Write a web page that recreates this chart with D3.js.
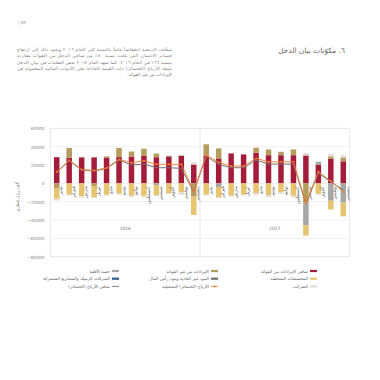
<!DOCTYPE html>
<html lang="ar">
<head>
<meta charset="UTF-8">
<title>مكوّنات بيان الدخل</title>
<script src="https://d3js.org/d3.v7.min.js"></script>
<style>
  body { margin: 0; background: #fff; }
  svg { display: block; font-family: "DejaVu Sans", sans-serif; }
</style>
</head>
<body>
<svg id="chart" width="380" height="380"></svg>
<script>
// months (Arabic), two years of monthly data
const months = ["يناير", "فبراير", "مارس", "أبريل", "مايو", "يونيو", "يوليو", "أغسطس", "سبتمبر", "أكتوبر", "نوفمبر", "ديسمبر"];
const years = ["2016", "2017"];
const yTicks = [60000, 40000, 20000, 0, -20000, -40000, -60000, -80000];

// stacked components (thousand QAR)
const netInterest   = [28500, 27800, 28300, 28300, 28200, 28600, 29200, 30000, 28500, 29300, 29800, 20500,
                       30400, 27100, 32600, 31500, 33300, 30700, 30700, 30700, 30400, 20000, 26600, 24000];
const nonInterest   = [-5500, 10800, 500, -3500, 1200, 10000, 5500, 7700, 4000, 800, 600, -14500,
                       12100, 11000, 0, 0, 5500, 6200, 3700, 6200, -21000, 0, 2800, 4000];
const extraordinary = [0, 0, 0, 0, 0, 0, 0, 0, 0, 0, 0, 0,
                       0, 0, 0, 0, 0, 0, 0, 0, 0, 0, 0, 0];
const minority      = [0, 0, 0, 0, 0, 0, 0, 0, -1800, 0, 0, 0,
                       0, -4000, 0, 0, 0, 0, 0, 0, -25000, 3500, -19000, -21000];
const associates    = [0, 0, 0, 0, 0, 0, 0, 0, 0, 0, 0, 0,
                       0, 0, 0, 0, 0, 0, 0, 0, 0, 0, 0, 0];
const provisions    = [-11300, -12300, -14000, -11500, -12500, -11300, -13500, -13500, -11000, -10600, -9900, -20000,
                       -12400, -11000, -13500, -12400, -10600, -13200, -9900, -13500, -11000, -11500, -9500, -15000];
const taxes         = [-1800, -1000, -1500, -1000, -1000, -1000, -1500, -1500, -1000, -1000, -2500, 2500,
                       -1000, -1000, -800, -1000, -1800, -1800, -1500, -1500, 2600, -1000, 2500, 2500];

// lines
const netProfit       = [12000, 24600, 14500, 13400, 16300, 25400, 20000, 21000, 17000, 17000, 16300, -9500,
                         29600, 20700, 17000, 17000, 25400, 21000, 21000, 21000, -22500, 11200, 1700, -7300];
const operatingProfit = [12500, 25200, 15000, 14000, 16800, 26000, 22500, 24600, 20700, 20700, 20700, -8500,
                         30800, 22900, 18800, 18800, 27200, 23500, 23500, 23500, -21500, 12600, 2500, -9100];

const paragraph = [
  "سجّلت الربحية انخفاضاً عاماً بالنسبة إلى العام ٢٠١٦ ويعود ذلك إلى ارتفاع",
  "خسائر الائتمان التي بلغت نسبة ٨٠٪ من صافي الدخل من الفوائد مقارنة",
  "بنسبة ٦٦٪ في العام ٢٠١٦. كما شهد العام ٢٠١٧ بعض التقلبات في بيان الدخل",
  "نتيجة الأرباح (الخسائر) ذات القيمة العادلة على الأدوات المالية المحمولة في",
  "الإيرادات من غير الفوائد."
];

const series = [
  { key: "netInterest",   name: "صافي الإيرادات من الفوائد",          values: netInterest,   color: "#a51c3b" },
  { key: "nonInterest",   name: "الإيرادات من غير الفوائد",           values: nonInterest,   color: "#b59b5c" },
  { key: "extraordinary", name: "البنود غير العادية وبنود رأس المال", values: extraordinary, color: "#6f6f6f" },
  { key: "minority",      name: "حصة الأقلية",                        values: minority,      color: "#a6a6a6" },
  { key: "associates",    name: "الشركات الزميلة والمشاريع المشتركة", values: associates,    color: "#2f5d8c" },
  { key: "provisions",    name: "المخصصات المتحققة",                  values: provisions,    color: "#e6c470" },
  { key: "taxes",         name: "الضرائب",                            values: taxes,         color: "#e0dbd0" }
];
const lineOp  = { name: "الأرباح (الخسائر) التشغيلية", color: "#f07f2c" };
const lineNet = { name: "صافي الأرباح (الخسائر)", color: "#7f6e6e" };

const svg = d3.select("#chart");
svg.append("rect").attr("width", 380).attr("height", 380).attr("fill", "#fff");

// header
svg.append("text").attr("x", 18).attr("y", 24)
  .attr("font-size", 4.5).attr("fill", "#888").text("| ٥٩");

svg.append("text").attr("x", 345).attr("y", 53)
  .attr("direction", "rtl").attr("text-anchor", "start")
  .attr("font-size", 7.4).attr("fill", "#666").text("٦. مكوّنات بيان الدخل");

const para = svg.append("g").selectAll("text").data(paragraph).join("text")
  .attr("x", 172).attr("y", (d, i) => 51 + i * 6.3)
  .attr("direction", "rtl").attr("text-anchor", "start")
  .attr("font-size", 4.4).attr("fill", "#777").text(d => d);
// justified lines (all but the last)
para.filter((d, i) => i < paragraph.length - 1)
  .attr("textLength", 155).attr("lengthAdjust", "spacing");

// chart
const plot = { left: 50.5, right: 349.5, top: 128.3, bottom: 256.7 };
const idx = d3.range(netInterest.length);

const x = d3.scaleBand().domain(idx).range([plot.left, plot.right]).paddingInner(0.56).paddingOuter(0.28);
const y = d3.scaleLinear().domain([-80000, 60000]).range([plot.bottom, plot.top]);

// grid
svg.append("g").selectAll("line").data(yTicks).join("line")
  .attr("x1", plot.left).attr("x2", plot.right)
  .attr("y1", d => y(d)).attr("y2", d => y(d))
  .attr("stroke", "#e6e6e6").attr("stroke-width", 0.6);

svg.append("rect")
  .attr("x", plot.left).attr("y", plot.top)
  .attr("width", plot.right - plot.left).attr("height", plot.bottom - plot.top)
  .attr("fill", "none").attr("stroke", "#e2e2e2").attr("stroke-width", 0.6);

// y axis
const yAxis = svg.append("g").attr("transform", `translate(${plot.left - 3},0)`)
  .call(d3.axisLeft(y).tickValues(yTicks).tickSize(0).tickFormat(d3.format("d")));
yAxis.select(".domain").remove();
yAxis.selectAll("text").attr("font-size", 4.3).attr("fill", "#888")
  .attr("font-family", "DejaVu Sans, sans-serif");

svg.append("text")
  .attr("transform", "translate(19,197) rotate(-90)")
  .attr("text-anchor", "middle").attr("font-size", 4.5).attr("fill", "#777")
  .text("ألف ريال قطري");

// year divider
const divX = (x(11) + x.bandwidth() + x(12)) / 2;
svg.append("line").attr("x1", divX).attr("x2", divX)
  .attr("y1", plot.top).attr("y2", plot.bottom)
  .attr("stroke", "#e2e2e2").attr("stroke-width", 0.8);

// stacked bars
const rows = idx.map(i => {
  const r = { i };
  series.forEach(s => { r[s.key] = s.values[i]; });
  return r;
});
const stack = d3.stack().keys(series.map(s => s.key))
  .order(d3.stackOrderNone).offset(d3.stackOffsetDiverging);
const stacked = stack(rows);

svg.append("g").selectAll("g").data(stacked).join("g")
  .attr("fill", (d, k) => series[k].color)
  .selectAll("rect").data(d => d).join("rect")
  .attr("x", d => x(d.data.i))
  .attr("y", d => y(Math.max(d[0], d[1])))
  .attr("width", x.bandwidth())
  .attr("height", d => Math.abs(y(d[0]) - y(d[1])));

// month labels, rotated, just right of each bar
const labelData = idx.map(i => months[i % 12]);
svg.append("g").selectAll("text").data(labelData).join("text")
  .attr("transform", (d, i) => `translate(${x(i) + x.bandwidth() / 2 + 5.6},${y(0) + 3}) rotate(-90)`)
  .attr("text-anchor", "end")
  .attr("font-size", 4.7).attr("fill", "#555").text(d => d);

// year labels
svg.append("g").selectAll("text").data(years).join("text")
  .attr("x", (d, k) => k === 0 ? (plot.left + divX) / 2 : (divX + plot.right) / 2)
  .attr("y", 230).attr("text-anchor", "middle")
  .attr("font-size", 4.5).attr("fill", "#777").text(d => d);

// lines
const cx = i => x(i) + x.bandwidth() / 2;
const line = d3.line().x((d, i) => cx(i)).y(d => y(d));

svg.append("path").datum(netProfit).attr("d", line)
  .attr("fill", "none").attr("stroke", lineNet.color).attr("stroke-width", 1);
svg.append("path").datum(operatingProfit).attr("d", line)
  .attr("fill", "none").attr("stroke", lineOp.color).attr("stroke-width", 0.9);
svg.append("g").selectAll("circle").data(operatingProfit).join("circle")
  .attr("cx", (d, i) => cx(i)).attr("cy", d => y(d)).attr("r", 1)
  .attr("fill", lineOp.color);

// legend (three columns, right to left)
const legendCols = [
  { x: 317, items: [series[0], series[5], series[6]].map(s => ({ name: s.name, color: s.color, type: "box" })) },
  { x: 218, items: [
      { name: series[1].name, color: series[1].color, type: "box" },
      { name: series[2].name, color: series[2].color, type: "box" },
      { name: lineOp.name, color: lineOp.color, type: "marker" } ] },
  { x: 119, items: [
      { name: series[3].name, color: series[3].color, type: "box" },
      { name: series[4].name, color: series[4].color, type: "box" },
      { name: lineNet.name, color: lineNet.color, type: "line" } ] }
];

legendCols.forEach(col => {
  const g = svg.append("g");
  col.items.forEach((it, r) => {
    const yy = 271 + r * 7.7;
    if (it.type === "box") {
      g.append("rect").attr("x", col.x - 7).attr("y", yy - 1.1).attr("width", 7).attr("height", 2.2).attr("fill", it.color);
    } else {
      g.append("line").attr("x1", col.x - 7).attr("x2", col.x).attr("y1", yy).attr("y2", yy)
        .attr("stroke", it.color).attr("stroke-width", 0.9);
      if (it.type === "marker") {
        g.append("circle").attr("cx", col.x - 3.5).attr("cy", yy).attr("r", 1).attr("fill", it.color);
      }
    }
    g.append("text").attr("x", col.x - 9).attr("y", yy + 1.5)
      .attr("direction", "rtl").attr("text-anchor", "start")
      .attr("font-size", 4.3).attr("fill", "#666").text(it.name);
  });
});
</script>
</body>
</html>
